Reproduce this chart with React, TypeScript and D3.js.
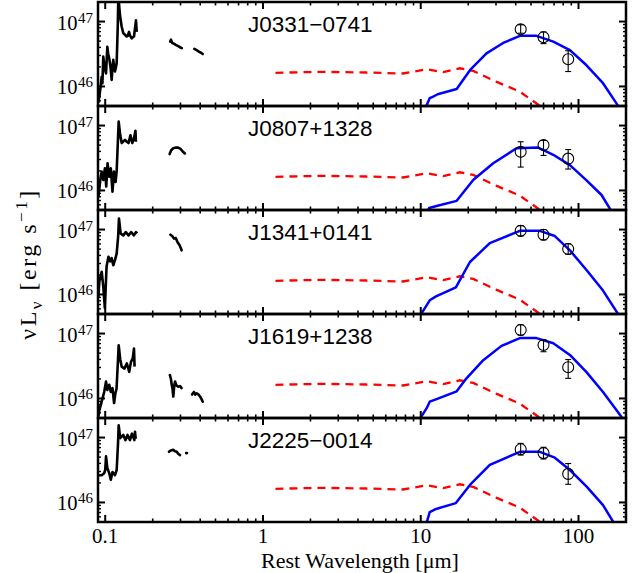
import React from 'react';
import * as d3 from 'd3';

// ---------- data ----------
const panelNames = ['J0331\u22120741', 'J0807+1328', 'J1341+0141', 'J1619+1238', 'J2225\u22120014'];
const xTickValues = [0.1, 1, 10, 100];
const xTickLabels = ['0.1', '1', '10', '100'];
const yMajorExponents = [46, 47];

// [rest wavelength (um), log10 nuL_nu]
const uv1 = [[0.0903,45.75],[0.0918,45.84],[0.0935,46.0],[0.095,46.15],[0.096,46.05],[0.0972,46.46],[0.099,46.3],[0.1012,46.2],[0.1031,46.61],[0.1045,46.5],[0.1061,46.43],[0.108,46.3],[0.1099,46.1],[0.1112,46.3],[0.1125,46.41],[0.114,46.3],[0.1153,46.23],[0.117,46.3],[0.1182,46.36],[0.12,46.9],[0.1211,47.4],[0.124,47.1],[0.1272,46.92],[0.1302,46.82],[0.133,46.8],[0.1368,46.77],[0.139,46.78],[0.1415,46.84],[0.144,46.78],[0.1472,46.74],[0.15,46.76],[0.1522,46.77],[0.1545,46.9],[0.1567,47.02],[0.1584,46.84]];
const uv2 = [[0.0905,45.9],[0.0918,46.03],[0.0935,46.2],[0.095,46.29],[0.0972,46.16],[0.0995,46.34],[0.1015,46.06],[0.1035,46.42],[0.106,46.21],[0.1085,46.34],[0.1112,45.98],[0.1135,46.29],[0.1163,46.13],[0.1182,46.3],[0.1205,46.8],[0.1217,47.06],[0.1245,46.85],[0.1272,46.73],[0.131,46.76],[0.1335,46.78],[0.137,46.75],[0.1405,46.73],[0.1445,46.85],[0.1485,46.73],[0.152,46.8],[0.1555,46.92],[0.1565,46.75]];
const uv3 = [[0.0905,45.95],[0.0918,46.2],[0.095,46.35],[0.0972,46.12],[0.0995,45.79],[0.102,46.43],[0.1048,46.58],[0.1075,46.51],[0.1099,46.56],[0.1125,46.45],[0.1153,46.53],[0.1182,46.63],[0.1208,46.9],[0.1222,47.17],[0.1252,46.94],[0.1302,46.91],[0.135,46.96],[0.1405,46.91],[0.146,46.96],[0.152,46.91],[0.1565,46.96],[0.1595,46.94]];
const uv4 = [[0.0905,45.72],[0.0918,45.82],[0.095,45.95],[0.0985,46.1],[0.1012,46.26],[0.1031,46.13],[0.1061,46.21],[0.1085,46.1],[0.1112,46.16],[0.1138,45.93],[0.116,46.08],[0.118,46.15],[0.1205,46.6],[0.1217,46.82],[0.1245,46.6],[0.1272,46.49],[0.1325,46.46],[0.137,46.54],[0.142,46.41],[0.1455,46.56],[0.1495,46.62],[0.1522,46.77],[0.1535,46.49]];
const uv5 = [[0.0903,46.42],[0.095,46.42],[0.0985,46.45],[0.1,46.5],[0.1012,46.71],[0.1031,46.53],[0.1061,46.45],[0.1085,46.35],[0.1112,46.47],[0.1153,46.42],[0.1182,46.5],[0.1205,46.9],[0.1217,47.19],[0.1245,46.99],[0.1302,47.04],[0.1345,46.96],[0.1385,47.04],[0.1435,46.96],[0.1478,47.06],[0.153,46.96],[0.1545,47.09],[0.156,46.98]];

const opt1 = [[[0.258,46.69],[0.261,46.72],[0.266,46.67],[0.272,46.66],[0.28,46.64],[0.29,46.62],[0.3,46.6],[0.306,46.59]],[[0.367,46.58],[0.38,46.56],[0.395,46.53],[0.405,46.52],[0.415,46.5]]];
const opt2 = [[[0.256,46.56],[0.262,46.62],[0.27,46.65],[0.28,46.66],[0.29,46.66],[0.3,46.64],[0.31,46.6],[0.32,46.57]]];
const opt3 = [[[0.259,46.92],[0.266,46.9],[0.273,46.86],[0.28,46.87],[0.288,46.8],[0.296,46.76],[0.305,46.68]]];
const opt4 = [[[0.257,46.36],[0.261,46.3],[0.264,46.21],[0.267,46.15],[0.27,46.03],[0.274,46.2],[0.277,46.26],[0.283,46.2],[0.29,46.18],[0.298,46.19],[0.305,46.16]],[[0.355,46.06],[0.365,46.1],[0.372,46.06],[0.38,46.08],[0.39,46.06],[0.399,46.03],[0.408,45.99],[0.415,45.95]]];
const opt5 = [[[0.2536,46.78],[0.26,46.8],[0.27,46.81],[0.277,46.79],[0.284,46.78],[0.29,46.75],[0.298,46.73]],[[0.326,46.76],[0.33,46.76]]];

// dust (blue) model
const dust1 = [[10.8,45.69],[11.4,45.82],[11.9,45.84],[12.8,45.88],[16.9,45.96],[20.5,46.25],[26.1,46.51],[33.3,46.67],[42.5,46.78],[54.2,46.78],[69.2,46.69],[88.2,46.56],[112,46.33],[143,46.05],[174,45.74],[180,45.68]];
const dust2 = [[11.1,45.69],[11.3,45.73],[12.6,45.76],[16.9,45.84],[21.5,46.16],[28.8,46.42],[40.4,46.65],[55.6,46.66],[69.2,46.55],[88.2,46.39],[112,46.16],[140,45.93],[158,45.72],[162,45.68]];
const dust3 = [[10.0,45.69],[11.4,45.91],[12.5,45.97],[16.7,46.11],[20.5,46.5],[27.4,46.79],[42.5,46.98],[56.9,46.98],[70.8,46.9],[88.2,46.68],[113,46.37],[143,46.06],[178,45.7],[182,45.66]];
const dust4 = [[9.9,45.69],[10.9,45.85],[11.4,45.95],[12.6,45.99],[16.9,46.11],[19.5,46.31],[24.9,46.59],[32.5,46.81],[42.5,46.93],[54.2,46.93],[69.2,46.85],[88.2,46.67],[112,46.41],[143,46.1],[187,45.72],[190,45.68]];
const dust5 = [[10.9,45.69],[11.4,45.85],[12.5,45.9],[16.7,45.99],[20.5,46.27],[27.4,46.58],[42.5,46.78],[56.9,46.78],[70.8,46.69],[88.2,46.5],[113,46.24],[143,45.96],[166,45.7],[170,45.66]];

// torus (red dashed) model
const torus = [[1.2,46.21],[2.3,46.225],[4.5,46.215],[7.7,46.2],[10.9,46.265],[13.9,46.22],[17.7,46.28],[21.5,46.24],[30.3,46.07],[42.5,45.92],[57,45.7],[70,45.55]];

// photometry: [wavelength, logL, logL low, logL high]
const phot1 = [[43,46.88,46.82,46.95],[60,46.757,46.66,46.84],[86,46.418,46.23,46.55]];
const phot2 = [[43,46.595,46.36,46.75],[60,46.7,46.54,46.77],[86,46.49,46.33,46.63]];
const phot3 = [[43,46.98,46.9,47.06],[60,46.92,46.84,47.0],[86,46.7,46.62,46.78]];
const phot4 = [[43,47.055,46.975,47.135],[60,46.823,46.72,46.9],[86,46.48,46.31,46.6]];
const phot5 = [[43,46.82,46.73,46.91],[60,46.76,46.67,46.85],[86,46.44,46.28,46.6]];

const uvAll = [uv1, uv2, uv3, uv4, uv5];
const optAll = [opt1, opt2, opt3, opt4, opt5];
const dustAll = [dust1, dust2, dust3, dust4, dust5];
const photAll = [phot1, phot2, phot3, phot4, phot5];

// ---------- layout ----------
const W = 639, H = 573;
const L = 98, R = 626, TOP0 = 2, PH = 104;
const serif = 'Liberation Serif, Times New Roman, serif';
const sans = 'Liberation Sans, Arial, sans-serif';

export default function App() {
  const x = d3.scaleLog().domain([0.09, 200]).range([L, R]);
  const yDomain: [number, number] = [Math.log10(5e45), Math.log10(2e47)];

  const xMinor: number[] = [];
  for (let e = -2; e <= 2; e++) for (let k = 1; k <= 9; k++) {
    const v = k * Math.pow(10, e);
    if (v > 0.09 && v < 200) xMinor.push(v);
  }
  const yMinor: number[] = [];
  for (let e = 45; e <= 47; e++) for (let k = 1; k <= 9; k++) {
    const v = e + Math.log10(k);
    if (v > yDomain[0] && v < yDomain[1]) yMinor.push(v);
  }

  return (
    <svg width={W} height={H} style={{ position: 'absolute', left: 0, top: 0, background: '#fff' }}>
      <defs>
        {panelNames.map((_, i) => (
          <clipPath id={`clip${i}`} key={i}>
            <rect x={L} y={TOP0 + i * PH} width={R - L} height={PH} />
          </clipPath>
        ))}
      </defs>
      <rect x={0} y={0} width={W} height={H} fill="#fff" />
      {panelNames.map((name, i) => {
        const top = TOP0 + i * PH;
        const bot = top + PH;
        const y = d3.scaleLinear().domain(yDomain).range([bot, top]);
        const line = d3.line<number[]>().x(d => x(d[0])).y(d => y(d[1]));
        return (
          <g key={i}>
            <g clipPath={`url(#clip${i})`}>
              <path d={line(uvAll[i]) || ''} fill="none" stroke="#000" strokeWidth={2.6} strokeLinejoin="round" />
              {optAll[i].map((seg, j) => (
                <path key={j} d={line(seg) || ''} fill="none" stroke="#000" strokeWidth={2.6} strokeLinejoin="round" strokeLinecap="round" />
              ))}
              <path d={line(torus) || ''} fill="none" stroke="#ff0000" strokeWidth={2.3} strokeDasharray="8,6" />
              <path d={line(dustAll[i]) || ''} fill="none" stroke="#0000ff" strokeWidth={2.5} strokeLinejoin="round" />
              {photAll[i].map((p, j) => (
                <g key={j} stroke="#000" strokeWidth={1.1} fill="none">
                  <line x1={x(p[0])} x2={x(p[0])} y1={y(p[2])} y2={y(p[3])} />
                  <line x1={x(p[0]) - 3} x2={x(p[0]) + 3} y1={y(p[2])} y2={y(p[2])} />
                  <line x1={x(p[0]) - 3} x2={x(p[0]) + 3} y1={y(p[3])} y2={y(p[3])} />
                  <circle cx={x(p[0])} cy={y(p[1])} r={5.5} />
                </g>
              ))}
            </g>
            {/* x ticks top & bottom */}
            {xMinor.map((v, j) => {
              const major = xTickValues.includes(+v.toPrecision(3));
              const len = major ? 7 : 3.5;
              return (
                <g key={`xt${j}`} stroke="#000" strokeWidth={major ? 2 : 1.6}>
                  <line x1={x(v)} x2={x(v)} y1={bot} y2={bot - len} />
                  <line x1={x(v)} x2={x(v)} y1={top} y2={top + len} />
                </g>
              );
            })}
            {/* y ticks left & right */}
            {yMinor.map((v, j) => {
              const major = yMajorExponents.some(e => Math.abs(e - v) < 1e-6);
              const len = major ? 7 : 3;
              return (
                <g key={`yt${j}`} stroke="#000" strokeWidth={major ? 2 : 1.4}>
                  <line x1={L} x2={L + len} y1={y(v)} y2={y(v)} />
                  <line x1={R} x2={R - len} y1={y(v)} y2={y(v)} />
                </g>
              );
            })}
            <rect x={L} y={top} width={R - L} height={PH} fill="none" stroke="#000" strokeWidth={2.5} />
            {yMajorExponents.map(e => (
              <g key={e} fill="#000" fontFamily={serif}>
                <text x={57} y={y(e) + 8} fontSize={20.5}>10</text>
                <text x={78} y={y(e) + 1} fontSize={15}>{e}</text>
              </g>
            ))}
            <text x={248} y={top + 30} fontFamily={sans} fontSize={22.5} fill="#000">{name}</text>
          </g>
        );
      })}
      {xTickValues.map((v, j) => (
        <text key={v} x={x(v)} y={543} fontFamily={serif} fontSize={21} textAnchor="middle" fill="#000">{xTickLabels[j]}</text>
      ))}
      <text x={360} y={568} fontFamily={serif} fontSize={22} textAnchor="middle" fill="#000">Rest Wavelength [{'\u03bc'}m]</text>
      <text transform="translate(36,264) rotate(-90)" fontFamily={serif} fontSize={24} letterSpacing={2.5} textAnchor="middle" fill="#000">
        {'\u03bd'}L<tspan dy={6} fontSize={17}>{'\u03bd'}</tspan><tspan dy={-6}> [erg s</tspan><tspan dy={-9} fontSize={17}>{'\u22121'}</tspan><tspan dy={9}>]</tspan>
      </text>
    </svg>
  );
}
